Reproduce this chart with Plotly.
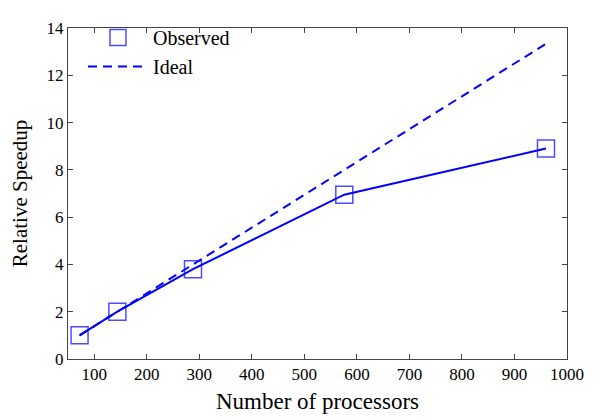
import plotly.graph_objects as go

processors = [72, 144, 288, 576, 960]
observed = [1.0, 2.0, 3.8, 6.95, 8.9]
ideal_x = [72, 144, 288, 576, 960]
ideal_y = [p / 72 for p in ideal_x]

blue = "#0000ff"
font_family = "Liberation Serif, DejaVu Serif, serif"

fig = go.Figure()
fig.add_trace(go.Scatter(x=processors, y=observed, mode="lines",
                         line=dict(color=blue, width=2), showlegend=False, hoverinfo="skip"))
fig.add_trace(go.Scatter(x=processors, y=observed, mode="markers", name="Observed",
                         marker=dict(symbol="square-open", size=17, color="rgba(0,0,255,0.7)",
                                     line=dict(width=1.5))))
fig.add_trace(go.Scatter(x=ideal_x, y=ideal_y, mode="lines", name="Ideal",
                         line=dict(color=blue, width=2, dash="9px,6px")))

axis_common = dict(showgrid=False, zeroline=False, showline=True, linecolor="#444",
                   linewidth=1, ticks="inside", ticklen=5, tickcolor="#444", mirror="ticks",
                   tickfont=dict(size=17, color="black", family=font_family))

# page body has an 8px margin, so size/margins are compensated
fig.update_layout(
    width=592, height=412,
    margin=dict(l=58, r=33, t=10, b=59),
    paper_bgcolor="white", plot_bgcolor="white",
    font=dict(family=font_family, color="black"),
    xaxis=dict(range=[50, 1000], dtick=100, tick0=100,
               title=dict(text="Number of processors", font=dict(size=23), standoff=9),
               **axis_common),
    yaxis=dict(range=[0, 14], dtick=2,
               title=dict(text="Relative Speedup", font=dict(size=21), standoff=14),
               **axis_common),
    legend=dict(x=0.03, y=1.03, xanchor="left", yanchor="top", bgcolor="rgba(0,0,0,0)",
                font=dict(size=20), itemwidth=60, tracegroupgap=0),
)

fig.write_html("out.html")
